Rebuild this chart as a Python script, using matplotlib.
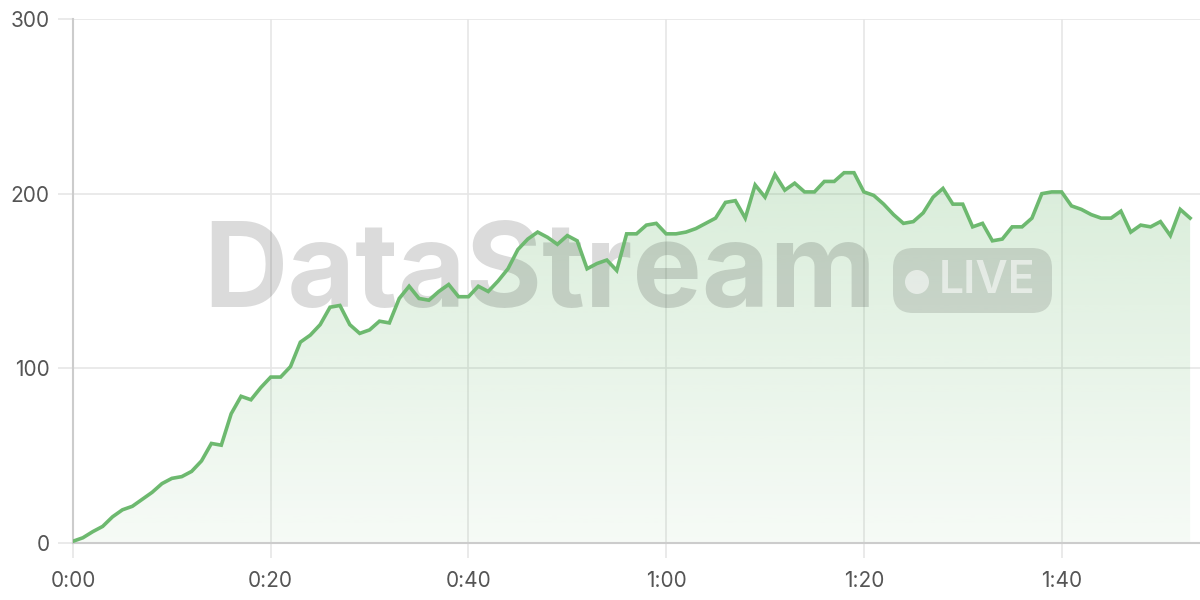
import matplotlib
matplotlib.use("Agg")
import matplotlib.pyplot as plt
import numpy as np
from matplotlib.patches import FancyBboxPatch, Circle
from matplotlib.colors import to_rgb
from matplotlib.transforms import IdentityTransform

seconds = list(range(0, 114))
values = [
    1, 3, 6.5, 9.5, 15, 19, 21, 25, 29, 34,
    37, 38, 41, 47, 57, 56, 74, 84, 82, 89,
    95, 95, 101, 115, 119, 125, 135, 136, 125, 120,
    122, 127, 126, 140, 147, 140, 139, 144, 148, 141,
    141, 147, 144, 150, 157, 168, 174, 178, 175, 171,
    176, 173, 157, 160, 162, 156, 177, 177, 182, 183,
    177, 177, 178, 180, 183, 186, 195, 196, 186, 205,
    198, 211, 202, 206, 201, 201, 207, 207, 212, 212,
    201, 199, 194, 188, 183, 184, 189, 198, 203, 194,
    194, 181, 183, 173, 174, 181, 181, 186, 200, 201,
    201, 193, 191, 188, 186, 186, 190, 178, 182, 181,
    184, 176, 191, 186,
]
x_ticks = [0, 20, 40, 60, 80, 100]
x_tick_labels = ["0:00", "0:20", "0:40", "1:00", "1:20", "1:40"]
y_ticks = [0, 100, 200, 300]
y_tick_labels = ["0", "100", "200", "300"]

LINE = "#6db96f"
FONT = ["Inter", "DejaVu Sans"]
plt.rcParams["font.family"] = FONT

W, H = 1200, 600
fig = plt.figure(figsize=(12, 6), dpi=100)
ax = fig.add_axes([73 / W, 57 / H, 1 - 73 / W, (543 - 19) / H])
ax.set_xlim(0, 114)
ax.set_ylim(0, 300)

# gradient fill under the line
poly = ax.fill_between(seconds, values, 0, color="none", lw=0)
rgb = np.array(to_rgb(LINE))
n = 256
grad = np.zeros((n, 1, 4))
grad[:, 0, :3] = rgb
grad[:, 0, 3] = np.linspace(0.06, 0.26, n)
im = ax.imshow(grad, aspect="auto", origin="lower",
               extent=[0, 114, 0, max(values)], zorder=1)
im.set_clip_path(poly.get_paths()[0], transform=ax.transData)

ax.plot(seconds, values, color=LINE, lw=2.6, zorder=5, solid_joinstyle="miter")

# grid and axes styling
ax.set_xticks(x_ticks)
ax.set_xticklabels(x_tick_labels)
ax.set_yticks(y_ticks)
ax.set_yticklabels(y_tick_labels)
ax.grid(True, color="#e6e6e6", lw=1.2, zorder=0)
ax.set_axisbelow(True)
for s in ["top", "right"]:
    ax.spines[s].set_visible(False)
for s in ["left", "bottom"]:
    ax.spines[s].set_color("#cccccc")
    ax.spines[s].set_linewidth(1.5)
ax.tick_params(axis="both", length=11, width=1.2, color="#e6e6e6",
               labelcolor="#555555", labelsize=15)
ax.tick_params(axis="y", pad=6)
ax.tick_params(axis="x", pad=9)

# watermark (pixel coordinates, y measured from bottom)
px = IdentityTransform()
ax.text(540, H - 276, "DataStream", fontsize=84, fontweight="bold",
        color="black", alpha=0.14, ha="center", va="center", zorder=3,
        transform=px)
pill = FancyBboxPatch((893 + 32, H - 313 + 32), (1052 - 893) - 64, (313 - 248) - 64,
                      boxstyle="round,pad=32,rounding_size=20",
                      transform=px, facecolor="black",
                      edgecolor="none", alpha=0.12, zorder=3)
ax.add_artist(pill)
ax.text(987, H - 281, "LIVE", fontsize=32, fontweight="semibold",
        color="white", alpha=0.55, ha="center", va="center", zorder=3,
        transform=px)
dot = Circle((917, H - 282), 12, transform=px,
             facecolor="white", edgecolor="none", alpha=0.55, zorder=3)
ax.add_artist(dot)

fig.savefig("out.png", dpi=100)
